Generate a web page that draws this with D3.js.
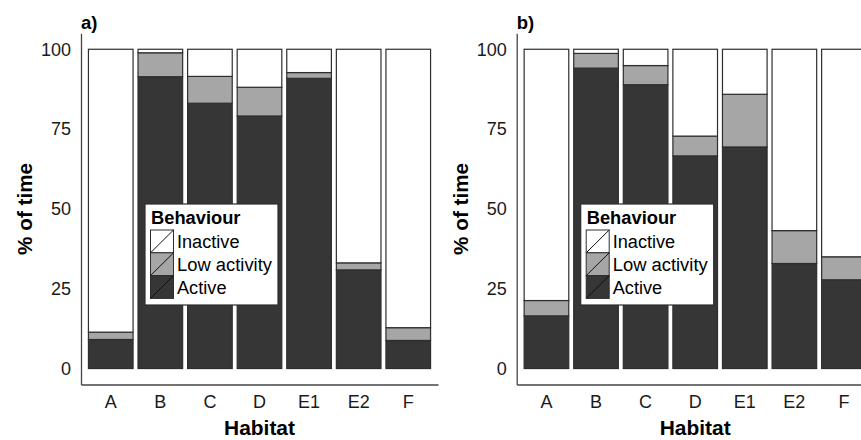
<!DOCTYPE html>
<html>
<head>
<meta charset="utf-8">
<script src="https://cdn.jsdelivr.net/npm/d3@7"></script>
<style>
  body { margin: 0; background: #fff; }
  svg { display: block; font-family: "Liberation Sans", Arial, sans-serif; }
</style>
</head>
<body>
<div id="chart"></div>
<script>
// habitats on the x axis
const habitats = ['A', 'B', 'C', 'D', 'E1', 'E2', 'F'];
const behaviours = ['Active', 'Low activity', 'Inactive'];
const yTicks = [0, 25, 50, 75, 100];

// panel a) % of time
const activeA = [9.1, 91.4, 83.1, 79.1, 90.9, 30.9, 8.8];
const lowA = [2.3, 7.5, 8.4, 9.0, 1.8, 2.2, 4.0];
const inactiveA = [88.6, 1.1, 8.5, 11.9, 7.3, 66.9, 87.2];

// panel b) % of time
const activeB = [16.5, 94.1, 88.9, 66.6, 69.4, 32.9, 27.8];
const lowB = [4.8, 4.6, 6.0, 6.2, 16.5, 10.3, 7.2];
const inactiveB = [78.7, 1.3, 5.1, 27.2, 14.1, 56.8, 65.0];

const colour = {
  'Inactive': '#ffffff',
  'Low activity': '#a6a6a6',
  'Active': '#363636',
};
// measured label widths in the original figure
const labelWidth = { 'Inactive': 62.5, 'Low activity': 95, 'Active': 49.5 };

const width = 861;
const height = 440;

const svg = d3
  .select('#chart')
  .append('svg')
  .attr('width', width)
  .attr('height', height);

function panel(x0, tag, active, low, inactive) {
  const plotW = 357;
  const top = 33.3;
  const bottom = 384.5;

  const rows = habitats.map((h, i) => ({
    habitat: h,
    'Active': active[i],
    'Low activity': low[i],
    'Inactive': inactive[i],
  }));

  const x = d3
    .scaleBand()
    .domain(habitats)
    .range([x0, x0 + plotW])
    .paddingInner(0.1)
    .paddingOuter(0.15);

  const y = d3
    .scaleLinear()
    .domain([-5, 105])
    .range([bottom, top]);

  const g = svg.append('g');

  const series = d3.stack().keys(behaviours)(rows);

  g.selectAll('g.layer')
    .data(series)
    .join('g')
    .attr('class', 'layer')
    .attr('fill', d => colour[d.key])
    .selectAll('rect')
    .data(d => d)
    .join('rect')
    .attr('x', d => x(d.data.habitat))
    .attr('width', x.bandwidth())
    .attr('y', d => y(d[1]))
    .attr('height', d => y(d[0]) - y(d[1]))
    .attr('stroke', '#2e2e2e')
    .attr('stroke-width', 1.2);

  // axes, no tick marks
  const yAxis = g
    .append('g')
    .attr('transform', `translate(${x0},0)`)
    .call(d3.axisLeft(y).tickValues(yTicks).tickSize(0).tickPadding(10));
  const xAxis = g
    .append('g')
    .attr('transform', `translate(0,${bottom})`)
    .call(d3.axisBottom(x).tickSize(0).tickPadding(11));

  [yAxis, xAxis].forEach(a => {
    a.attr('font-size', 18).attr('font-family', '"Liberation Sans", Arial, sans-serif');
    a.select('.domain').attr('stroke', '#444').attr('stroke-width', 1.3);
    a.selectAll('text').attr('fill', '#1a1a1a');
  });

  g.append('text')
    .attr('transform', `translate(${x0 - 49},${(top + bottom) / 2}) rotate(-90)`)
    .attr('text-anchor', 'middle')
    .attr('font-weight', 'bold')
    .attr('font-size', 21)
    .attr('textLength', 92)
    .attr('lengthAdjust', 'spacingAndGlyphs')
    .text('% of time');

  g.append('text')
    .attr('x', x0 + plotW / 2)
    .attr('y', 435)
    .attr('text-anchor', 'middle')
    .attr('font-weight', 'bold')
    .attr('font-size', 21)
    .attr('textLength', 71)
    .attr('lengthAdjust', 'spacingAndGlyphs')
    .text('Habitat');

  g.append('text')
    .attr('x', x0)
    .attr('y', 29)
    .attr('font-weight', 'bold')
    .attr('font-size', 18.5)
    .text(tag);

  // legend
  const lg = g.append('g').attr('transform', `translate(${x0 + 64},204)`);
  lg.append('rect')
    .attr('width', 133)
    .attr('height', 101)
    .attr('fill', '#fff')
    .attr('stroke', '#2e2e2e')
    .attr('stroke-width', 1.2);
  lg.append('text')
    .attr('x', 6)
    .attr('y', 19.5)
    .attr('font-weight', 'bold')
    .attr('font-size', 18)
    .attr('textLength', 89.5)
    .attr('lengthAdjust', 'spacingAndGlyphs')
    .text('Behaviour');

  const keys = behaviours.slice().reverse();
  const key = lg
    .selectAll('g.key')
    .data(keys)
    .join('g')
    .attr('class', 'key')
    .attr('transform', (d, i) => `translate(5.5,${26 + i * 22.8})`);
  key.append('rect')
    .attr('width', 23)
    .attr('height', 22.8)
    .attr('fill', d => colour[d])
    .attr('stroke', '#2e2e2e')
    .attr('stroke-width', 1);
  key.append('line')
    .attr('x1', 0)
    .attr('y1', 22.8)
    .attr('x2', 23)
    .attr('y2', 0)
    .attr('stroke', '#111')
    .attr('stroke-width', 1);
  key.append('text')
    .attr('x', 26.5)
    .attr('y', 18)
    .attr('font-size', 18)
    .attr('textLength', d => labelWidth[d])
    .attr('lengthAdjust', 'spacingAndGlyphs')
    .text(d => d);
}

panel(81, 'a)', activeA, lowA, inactiveA);
panel(516.7, 'b)', activeB, lowB, inactiveB);
</script>
</body>
</html>
